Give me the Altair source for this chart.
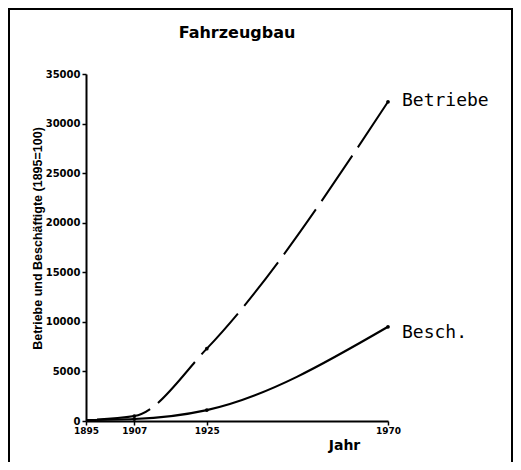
import altair as alt
import pandas as pd

years = [1895, 1907, 1925, 1970]
betriebe = [100, 500, 7300, 32200]
besch = [100, 200, 1100, 9500]
x_ticks = [1895, 1907, 1925, 1970]
y_ticks = [0, 5000, 10000, 15000, 20000, 25000, 30000, 35000]
labels = ["Betriebe", "Besch."]

df_b = pd.DataFrame({"Jahr": years, "Wert": betriebe})
df_s = pd.DataFrame({"Jahr": years, "Wert": besch})
df_lab = pd.DataFrame({"Jahr": [years[-1], years[-1]],
                       "Wert": [betriebe[-1], besch[-1]],
                       "label": labels})

xs = alt.X("Jahr:Q",
           scale=alt.Scale(domain=[1895, 1970], nice=False, zero=False),
           axis=alt.Axis(values=x_ticks, format="d", title="Jahr",
                         labelFontSize=9, labelPadding=1, labelFlush=False,
                         titleX=258, titleY=24, titleBaseline="middle",
                         titleAlign="center", titleFontSize=14,
                         titleFont="DejaVu Sans", titleFontWeight="bold"))
ys = alt.Y("Wert:Q",
           scale=alt.Scale(domain=[0, 35000], nice=False),
           axis=alt.Axis(values=y_ticks, format="d",
                         title="Betriebe und Beschäftigte (1895=100)",
                         labelFontSize=10, labelPadding=2, labelFlush=False,
                         titleX=-49, titleY=164, titleAngle=270,
                         titleBaseline="middle", titleAlign="center",
                         titleFontSize=12.5, titleFont="Liberation Sans",
                         titleFontWeight="bold"))

frame = alt.Chart(alt.Data(values=[{}])).mark_rect(
    fillOpacity=0, stroke="black", strokeWidth=2
).encode(x=alt.value(-77), x2=alt.value(426), y=alt.value(-65), y2=alt.value(420))

title = alt.Chart(alt.Data(values=[{"t": "Fahrzeugbau"}])).mark_text(
    font="DejaVu Sans", fontWeight="bold", fontSize=16, align="center",
    baseline="alphabetic", color="black"
).encode(x=alt.value(151), y=alt.value(-36), text="t:N")

line_b = alt.Chart(df_b).mark_line(
    color="black", strokeWidth=2, interpolate="monotone",
    strokeDash=[55, 10], strokeDashOffset=54
).encode(x=xs, y=ys)
line_s = alt.Chart(df_s).mark_line(
    color="black", strokeWidth=2.2, interpolate="monotone"
).encode(x=xs, y=ys)

pts_b = alt.Chart(df_b[df_b.Jahr > 1895]).mark_point(
    filled=True, color="black", size=14, opacity=1
).encode(x=xs, y=ys)
pts_s = alt.Chart(df_s[df_s.Jahr > 1895]).mark_point(
    filled=True, color="black", size=14, opacity=1
).encode(x=xs, y=ys)

lab_b = alt.Chart(df_lab[df_lab.label == "Betriebe"]).mark_text(
    font="DejaVu Sans Mono", fontSize=18, align="left", baseline="middle",
    dx=14, dy=-1, color="black"
).encode(x=xs, y=ys, text="label:N")
lab_s = alt.Chart(df_lab[df_lab.label == "Besch."]).mark_text(
    font="DejaVu Sans Mono", fontSize=18, align="left", baseline="middle",
    dx=14, dy=6, color="black"
).encode(x=xs, y=ys, text="label:N")

chart = alt.layer(
    frame, title, line_s, line_b, pts_b, pts_s, lab_b, lab_s
).properties(
    width=302, height=347,
    autosize=alt.AutoSizeParams(type="none"),
    padding={"left": 78, "top": 66, "right": 125, "bottom": 41},
).configure_view(
    stroke=None
).configure_axis(
    grid=False, domainColor="black", domainWidth=2, tickColor="black",
    tickWidth=1.5, tickSize=4, labelColor="black", titleColor="black",
    labelFont="DejaVu Sans", labelFontWeight="bold"
)

chart.save("out.html", embed_options={"renderer": "svg", "actions": False})
